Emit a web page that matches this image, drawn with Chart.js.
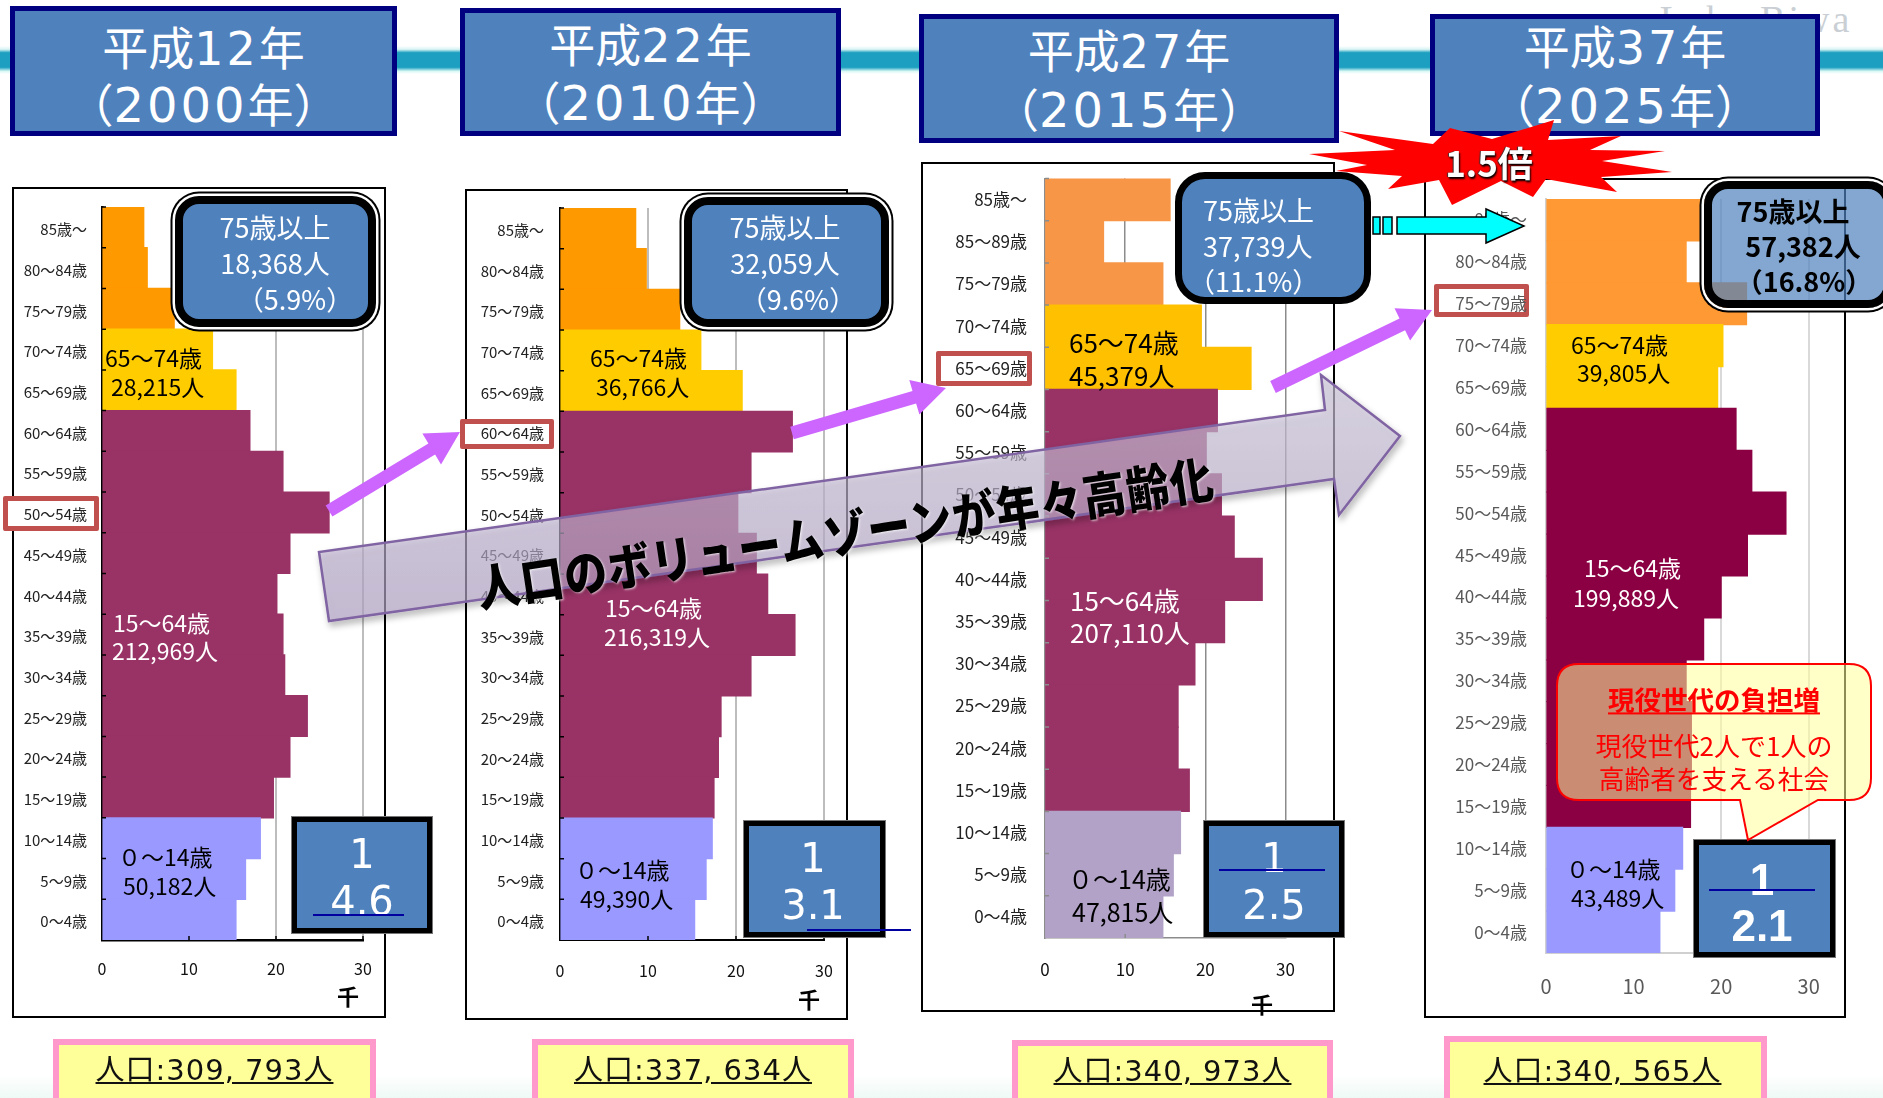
<!DOCTYPE html>
<html lang="ja"><head><meta charset="utf-8">
<script src="https://cdn.jsdelivr.net/npm/chart.js@4"></script>
<style>
html,body{margin:0;padding:0;background:#fff}
#page{position:relative;width:1883px;height:1098px;overflow:hidden;background:linear-gradient(#fff 1075px,#eef9f6 1098px);font-family:"Noto Sans CJK JP","Noto Sans",sans-serif}
#page>*{position:absolute}
.band{left:0;top:46px;width:1883px;height:28px;background:linear-gradient(#fff 0,#d8f3f3 12%,#1c9fc0 24%,#1c9fc0 76%,#d8f8f4 90%,#fff 100%)}
.frame{box-sizing:border-box;border:2px solid #000;background:#fff}
.marker{box-sizing:border-box;border:5.5px solid #c0504d;border-radius:2px;background:#fff}
canvas{background:transparent}
.head{box-sizing:border-box;background:#4f81bd;border:5px solid #000080;color:#fff;text-align:center}
.head div{position:absolute;left:0;right:0;font:46px/1 "Noto Sans CJK JP",sans-serif;white-space:nowrap}
.head i{font:46px/1 "DejaVu Sans",sans-serif;font-style:normal;letter-spacing:3px}
.head b{font:48px/1 "DejaVu Sans",sans-serif;font-weight:400;letter-spacing:3px}
.t{white-space:nowrap;transform:translateY(-50%);line-height:1.1}
.c{transform:translate(-50%,-50%)}
.rbox{box-sizing:border-box;background:#4f81bd;border:8px solid #000;border-radius:24px}
.ring{box-shadow:0 0 0 2.5px #fff,0 0 0 4.5px #000}
.frac{box-sizing:border-box;background:#4f81bd;border:5.5px solid #000;outline:1px solid #777}
.pop{box-sizing:border-box;background:#ffff99;border:6px solid #ff99cc}
.pop span{position:absolute;top:7px;left:0;right:0;text-align:center;font:29px/1.3 "DejaVu Sans","Noto Sans CJK JP",sans-serif;color:#111;text-decoration:underline;letter-spacing:1px;white-space:nowrap}
svg{left:0;top:0;overflow:visible}
</style></head><body><div id="page"></div>
<script>
// ---------- data (thousands of people, oldest group first) ----------
const ageLabels = ["85歳～","80～84歳","75～79歳","70～74歳","65～69歳","60～64歳","55～59歳","50～54歳","45～49歳","40～44歳","35～39歳","30～34歳","25～29歳","20～24歳","15～19歳","10～14歳","5～9歳","0～4歳"];
const ageLabels2015 = ["85歳～","85～89歳","75～79歳","70～74歳","65～69歳","60～64歳","55～59歳","50～54歳","45～49歳","40～44歳","35～39歳","30～34歳","25～29歳","20～24歳","15～19歳","10～14歳","5～9歳","0～4歳"];
const values2000 = [4.8,5.2,8.3,12.7,15.4,17.0,20.8,26.1,21.6,20.1,20.8,21.0,23.6,21.6,19.7,18.2,16.5,15.4];
const values2010 = [8.6,9.8,13.6,16.0,20.7,26.4,21.7,20.2,22.3,23.6,26.7,21.7,18.3,18.0,17.5,17.3,16.6,15.3];
const values2015 = [15.6,7.3,14.7,19.5,25.7,21.5,20.1,22.0,23.6,27.1,22.4,18.7,16.6,16.6,18.0,16.9,16.0,14.7];
const values2025 = [18.5,16.0,22.9,20.2,19.6,21.7,23.5,27.4,23.0,20.0,18.0,16.0,16.6,16.6,16.5,15.6,14.7,13.0];
const xTicks = [0,10,20,30];
const groupSizes = [3,2,10,3];
const palette2000 = ["#ff9900","#ffcc00","#993366","#9999ff"];
const palette2015 = ["#f79646","#ffc000","#993366","#b2a2c7"];
const palette2025 = ["#ff9933","#ffcc00","#8b0043","#9999ff"];

const page = document.getElementById('page');
function add(html){const w=document.createElement('div');w.innerHTML=html.trim();const e=w.firstChild;page.appendChild(e);return e;}
function box(cls,x1,y1,x2,y2,inner,extra){return add(`<div class="${cls}" style="left:${x1}px;top:${y1}px;width:${x2-x1}px;height:${y2-y1}px;${extra||''}">${inner||''}</div>`);}
function text(s,x,y,size,color,extra){return add(`<div class="t" style="left:${x}px;top:${y}px;font-size:${size}px;color:${color};${extra||''}">${s}</div>`);}
function ctext(s,x,y,size,color,extra){return add(`<div class="t c" style="left:${x}px;top:${y}px;font-size:${size}px;color:${color};${extra||''}">${s}</div>`);}

// ---------- backdrop ----------
add('<div class="band"></div>');
ctext('Lake Biwa',1756,20,38,'#c9cfd4',"font-family:'Liberation Serif',serif;letter-spacing:3px");

// ---------- frames and markers sit under the transparent canvases ----------
const panels=[
 {frame:[12,187,386,1018],plot:[102,207,363,940],labels:ageLabels,values:values2000,palette:palette2000,lab:15,labGap:15,labShift:2,labColor:'#222',xFont:16,xPad:19,xColor:'#111',grid:'#bdbdbd',gridW:2,axis:'#000',axisW:2.5,tick:'#000',marker:[3,496,99,531]},
 {frame:[465,189,848,1020],plot:[560,208,824,940],labels:ageLabels,values:values2010,palette:palette2000,lab:15,labGap:16,labShift:2,labColor:'#222',xFont:16,xPad:21,xColor:'#111',grid:'#bdbdbd',gridW:2,axis:'#000',axisW:2,tick:'#000',marker:[460,419,554,449]},
 {frame:[921,162,1335,1012],plot:[1045,178.5,1285.5,938],labels:ageLabels2015,values:values2015,palette:palette2015,lab:17,labGap:18,labShift:0,labColor:'#222',xFont:17,xPad:21,xColor:'#111',grid:'#8c8c8c',gridW:1.5,axis:'#8c8c8c',axisW:1.5,tick:'#8c8c8c',marker:[936,351,1032,386]},
 {frame:[1424,178,1846,1018],plot:[1546,199,1808.7,953],labels:ageLabels,values:values2025,palette:palette2025,lab:17,labGap:19,labShift:0,labColor:'#595959',xFont:20,xPad:21,xColor:'#595959',grid:'#d9d9d9',gridW:2,axis:'#d0d0d0',axisW:2,tick:null,marker:[1434,284,1529,317]}
];
panels.forEach(p=>{
  box('frame',...p.frame);
  box('marker',...p.marker);
});

const innerTicks={id:'innerTicks',afterDatasetsDraw(chart,args,o){
  if(!o.color)return;
  const {ctx,scales:{x,y},chartArea:a}=chart;const step=(a.bottom-a.top)/y.ticks.length;
  ctx.save();ctx.strokeStyle=o.color;ctx.lineWidth=1.5;ctx.beginPath();
  for(let i=0;i<y.ticks.length;i++){const py=y.getPixelForValue(i)-step/2;ctx.moveTo(a.left,py);ctx.lineTo(a.left+4,py);}
  xTicks.slice(1).forEach(v=>{const px=x.getPixelForValue(v);ctx.moveTo(px,a.bottom);ctx.lineTo(px,a.bottom-4);});
  ctx.stroke();ctx.restore();
}};

panels.forEach(p=>{
  const [fx1,fy1,fx2,fy2]=p.frame,[px1,py1,px2,py2]=p.plot;
  const c=add(`<canvas width="${fx2-fx1}" height="${fy2-fy1}" style="left:${fx1}px;top:${fy1}px;width:${fx2-fx1}px;height:${fy2-fy1}px"></canvas>`);
  const colors=[];groupSizes.forEach((n,g)=>{for(let i=0;i<n;i++)colors.push(p.palette[g]);});
  const chart=new Chart(c,{type:'bar',
    data:{labels:p.labels,datasets:[{data:p.values,backgroundColor:colors,borderWidth:0,inflateAmount:0.6,categoryPercentage:1,barPercentage:1}]},
    plugins:[innerTicks],
    options:{indexAxis:'y',responsive:false,animation:false,
      layout:{padding:{top:py1-fy1,right:fx2-px2,left:0,bottom:0}},
      plugins:{legend:{display:false},title:{display:false},tooltip:{enabled:false},innerTicks:{color:p.tick}},
      scales:{
        x:{type:'linear',min:xTicks[0],max:xTicks[xTicks.length-1],
           afterFit:s=>{s.height=fy2-py2;s.paddingLeft=0;s.paddingRight=0;s.paddingTop=0;s.paddingBottom=0;},
           afterBuildTicks:s=>{s.ticks=xTicks.map(v=>({value:v}));},
           grid:{color:p.grid,lineWidth:p.gridW,drawTicks:false},
           border:{display:true,color:p.axis,width:p.axisW},
           ticks:{autoSkip:false,maxRotation:0,padding:p.xPad,color:p.xColor,font:{size:p.xFont,family:'"Noto Sans CJK JP"'}}},
        y:{type:'category',
           afterFit:s=>{s.width=px1-fx1;s.paddingLeft=0;s.paddingRight=0;s.paddingTop=0;s.paddingBottom=0;},
           grid:{display:false,drawTicks:false},
           border:{display:true,color:p.axis,width:p.axisW},
           ticks:{autoSkip:false,padding:p.labGap,labelOffset:p.labShift,color:p.labColor,font:{size:p.lab,family:'"Noto Sans CJK JP"'}}}
      }}});
  // nudge the layout padding until the plot area lands on the wanted rectangle
  for(let k=0;k<3;k++){
    const a=chart.chartArea,pad=chart.config.options.layout.padding;
    pad.top=Math.max(0,pad.top+(py1-fy1-a.top));
    pad.right=Math.max(0,pad.right+(a.right-(px2-fx1)));
    chart.update();
  }
});

// ---------- year headers ----------
function header(x1,y1,x2,y2,y1c,y2c,era,year){
  const top=y1+5, mk=(s,yc)=>`<div style="top:${yc-top-25}px">${s}</div>`;
  box('head',x1,y1,x2,y2,mk(`平成<i>${era}</i>年`,y1c)+mk(`（<b>${year}</b>年）`,y2c));
}
header(10,6,397,136,47,104,'12','2000');
header(460,8,841,136,44,102,'22','2010');
header(919,14,1339,143,50,109,'27','2015');
header(1430,14,1820,136,46,105,'37','2025');

// ---------- burst ----------
add(`<svg width="1883" height="1098"><polygon fill="#ff0000" points="1339,131 1433,144 1450,128 1492,139 1554,120 1548,140 1621,136 1590,150 1665,151 1602,161 1672,172 1601,177 1617,192 1546,179 1533,197 1501,181 1452,205 1439,180 1388,189 1402,176 1336,171 1367,165 1309,154 1395,150"/></svg>`);
ctext('1.5倍',1489,162,35,'#fff','font-weight:700;text-shadow:1px 2px 2px #000,-1px 0 1px #333');

// ---------- in-plot group labels ----------
[
 ['65～74歳',105,358,'#000',23],['28,215人',111,387,'#000',23],
 ['15～64歳',113,623,'#fff',23],['212,969人',112,651,'#fff',23],
 ['０～14歳',118,857,'#000',23],['50,182人',123,886,'#000',23],
 ['65～74歳',590,358,'#000',23],['36,766人',596,387,'#000',23],
 ['15～64歳',605,608,'#fff',23],['216,319人',604,637,'#fff',23],
 ['０～14歳',575,870,'#000',23],['49,390人',580,899,'#000',23],
 ['65～74歳',1069,342,'#000',26],['45,379人',1069,375,'#000',26],
 ['15～64歳',1070,600,'#fff',26],['207,110人',1070,632,'#fff',26],
 ['０～14歳',1068,879,'#000',25],['47,815人',1072,912,'#000',25],
 ['65～74歳',1571,345,'#000',23],['39,805人',1577,373,'#000',23],
 ['15～64歳',1584,568,'#fff',23],['199,889人',1573,598,'#fff',23],
 ['０～14歳',1566,869,'#000',23],['43,489人',1571,898,'#000',23]
].forEach(a=>text(a[0],a[1],a[2],a[4],a[3]));
[['千',348,995],['千',809,998],['千',1262,1003]].forEach(a=>ctext(a[0],a[1],a[2],22,'#000','font-weight:700'));

// ---------- 75+ boxes ----------
box('rbox ring',175,196,376,327);
ctext('75歳以上',275,227,27,'#fff');ctext('18,368人',275,263,27,'#fff');ctext('（5.9%）',295,299,27,'#fff');
box('rbox ring',684,197,889,327);
ctext('75歳以上',785,227,27,'#fff');ctext('32,059人',785,263,27,'#fff');ctext('（9.6%）',798,299,27,'#fff');
box('rbox',1175,172,1371,304,'','border-width:7px;border-radius:30px');
text('75歳以上',1203,210,27,'#fff');text('37,739人',1203,246,27,'#fff');text('（11.1%）',1188,281,27,'#fff');

// ---------- fraction boxes ----------
function frac(x1,y1,x2,y2){box('frac',x1,y1,x2,y2);}
const fracFont="font-family:'DejaVu Sans',sans-serif";
frac(292,817,432,933);ctext('1',362,854,40,'#fff',fracFont);ctext('4.6',362,901,40,'#fff',fracFont);
frac(744,821,885,937);ctext('1',813,858,40,'#fff',fracFont);ctext('3.1',813,905,40,'#fff',fracFont);
frac(1204,821,1344,937);ctext('1',1274,858,40,'#fff',fracFont);ctext('2.5',1274,905,40,'#fff',fracFont);
frac(1694,840,1835,957);
const boldFrac="font-family:'Liberation Sans',sans-serif;font-weight:700";
ctext('1',1762,880,44,'#fff',boldFrac);ctext('2.1',1762,926,44,'#fff',boldFrac);

// ---------- decorations drawn with svg ----------
function arrow(x1,y1,x2,y2,w,hw,hl){
  const L=Math.hypot(x2-x1,y2-y1),ux=(x2-x1)/L,uy=(y2-y1)/L,nx=-uy,ny=ux,bx=x2-ux*hl,by=y2-uy*hl;
  const P=[[x1+nx*w/2,y1+ny*w/2],[bx+nx*w/2,by+ny*w/2],[bx+nx*hw/2,by+ny*hw/2],[x2,y2],[bx-nx*hw/2,by-ny*hw/2],[bx-nx*w/2,by-ny*w/2],[x1-nx*w/2,y1-ny*w/2]];
  return `<polygon fill="#cc66ff" points="${P.map(p=>p.map(v=>v.toFixed(1)).join(',')).join(' ')}"/>`;
}
add(`<svg width="1883" height="1098">
 <defs>
  <linearGradient id="lav" x1="0" y1="0" x2="0" y2="1"><stop offset="0" stop-color="#cfc8dc" stop-opacity=".62"/><stop offset="1" stop-color="#b4a5c8" stop-opacity=".62"/></linearGradient>
  <filter id="sh" x="-5%" y="-20%" width="110%" height="140%"><feDropShadow dx="2" dy="4" stdDeviation="3" flood-color="#000" flood-opacity=".35"/></filter>
 </defs>
 <polygon fill="url(#lav)" stroke="#8064a2" stroke-width="2.5" filter="url(#sh)" points="329,621 319,552 1325,410 1321,375 1400,436 1339,515 1334,479"/>
 ${arrow(329,511,460,432,13,36,33)}
 ${arrow(792,433,946,388,13,36,33)}
 ${arrow(1273,387,1432,310,13,36,33)}
 <g fill="#00ffff" stroke="#000" stroke-width="1.5">
  <rect x="1373" y="217" width="7" height="17"/><rect x="1383" y="217" width="9" height="17"/>
  <polygon points="1397,217 1486,217 1486,209 1524,226 1486,243 1486,234 1397,234"/>
 </g>
</svg>`);
ctext('人口のボリュームゾーンが年々高齢化',845,531,43,'#000','font-weight:900;letter-spacing:1px;transform:translate(-50%,-50%) rotate(-8.6deg) scale(1,1.15);text-shadow:1px 1px 2px rgba(255,255,255,.7)');

// ---------- fraction bars (above the digits) ----------
[[313,915,404],[807,930,911],[1219,869.5,1325],[1709,890,1815]].forEach(a=>{
  add(`<div style="left:${a[0]}px;top:${a[1]-1}px;width:${a[2]-a[0]}px;height:2px;background:#0000a0"></div>`);
});

// ---------- 2025 translucent box ----------
box('rbox ring',1704,181,1892,308,'','background:rgba(79,129,189,.7)');
ctext('75歳以上',1793,211,27,'#000','font-weight:700');
ctext('57,382人',1803,246,27,'#000','font-weight:700');
ctext('（16.8%）',1804,281,27,'#000','font-weight:700');

// ---------- callout ----------
add(`<svg width="1883" height="1098"><path fill="rgba(255,255,153,.55)" stroke="#ff0000" stroke-width="2" d="M1579,664 H1849 Q1871,664 1871,686 V778 Q1871,800 1849,800 H1818 L1748,840 L1740,800 H1579 Q1557,800 1557,778 V686 Q1557,664 1579,664 Z"/></svg>`);
ctext('現役世代の負担増',1714,699,26.5,'#ff0000','font-weight:700;text-decoration:underline');
ctext('現役世代2人で1人の',1714,745,26,'#ff0000');
ctext('高齢者を支える社会',1714,778,25.7,'#ff0000');

// ---------- population boxes ----------
function pop(x1,y,x2,s,dx,dy){box('pop',x1,y,x2,y+70,`<span style="left:${dx||0}px;top:${7+(dy||0)}px">${s}</span>`);}
pop(53,1039,376,'人口:309, 793人');
pop(532,1039,854,'人口:337, 634人');
pop(1012,1040,1333,'人口:340, 973人');
pop(1444,1036,1767,'人口:340, 565人',-6,4);
</script></body></html>
